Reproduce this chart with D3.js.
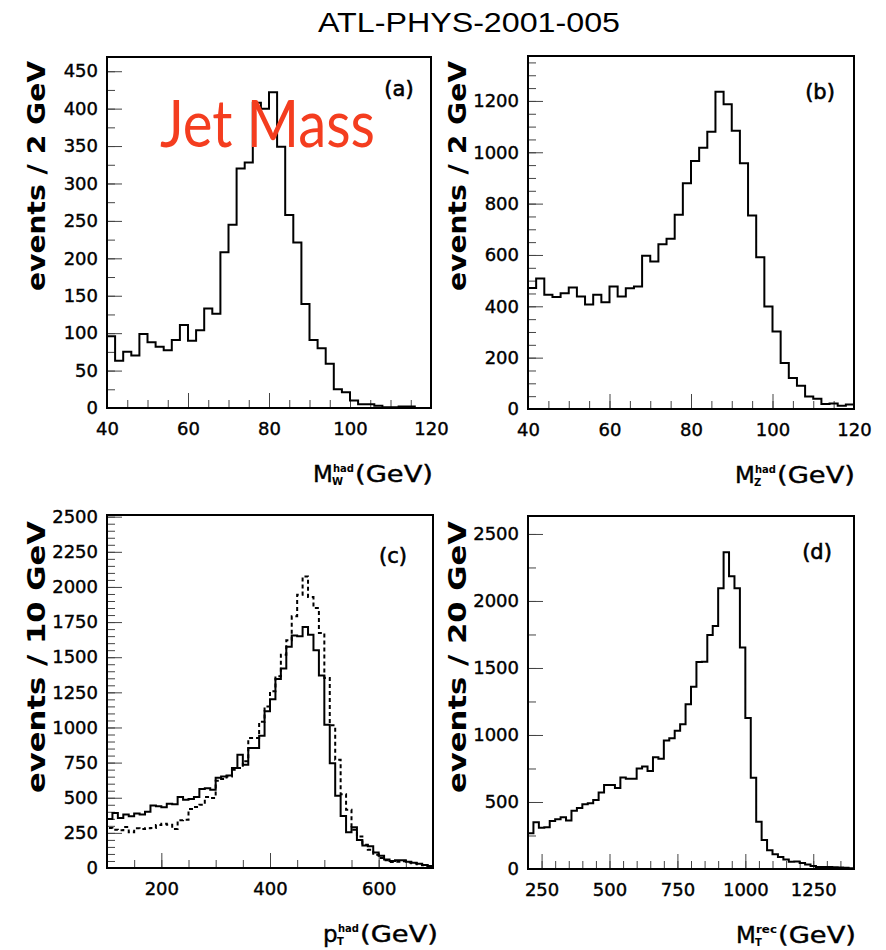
<!DOCTYPE html>
<html>
<head>
<meta charset="utf-8">
<script src="https://cdnjs.cloudflare.com/ajax/libs/d3/7.8.5/d3.min.js"></script>
<style>
body { margin: 0; background: #fff; }
svg { display: block; }
text { font-family: "DejaVu Sans", sans-serif; fill: #000; }
</style>
</head>
<body>
<svg id="main" width="886" height="950"></svg>
<script>
// ---- data ----

// (a) hadronic W mass, 2 GeV bins, 40..120
var wMassEdges = [40, 120, 2];
var wMassCounts = [96, 63, 75, 70, 99, 88, 82, 77, 91, 111,
    90, 104, 133, 126, 208, 245, 320, 328, 408, 400,
    422, 349, 258, 221, 139, 91, 80, 59, 25, 21,
    10, 5, 5, 3, 1, 1, 2, 2, 0, 0];
var wMassXTicks = [40, 60, 80, 100, 120];
var wMassYTicks = [0, 50, 100, 150, 200, 250, 300, 350, 400, 450];

// (b) hadronic Z mass, 2 GeV bins, 40..120
var zMassEdges = [40, 120, 2];
var zMassCounts = [471, 508, 445, 436, 451, 473, 438, 407, 445, 416,
    477, 438, 470, 477, 597, 575, 642, 663, 757, 879,
    966, 1018, 1080, 1236, 1187, 1084, 957, 754, 591, 399,
    302, 179, 121, 91, 49, 40, 19, 21, 13, 18];
var zMassXTicks = [40, 60, 80, 100, 120];
var zMassYTicks = [0, 200, 400, 600, 800, 1000, 1200];

// (c) hadronic pT, 10 GeV bins, 100..700 (solid and dashed)
var ptEdges = [100, 700, 10];
var ptSolid = [349, 391, 356, 380, 368, 387, 380, 401, 444, 439,
    432, 458, 453, 505, 486, 491, 505, 562, 567, 557,
    643, 652, 659, 712, 806, 735, 854, 854, 942, 1115,
    1200, 1345, 1420, 1575, 1655, 1650, 1715, 1660, 1550, 1370,
    1020, 745, 515, 370, 255, 290, 200, 160, 154, 110,
    88, 60, 50, 55, 55, 45, 37, 30, 22, 15];
var ptDashed = [285, 273, 268, 292, 254, 282, 278, 282, 285, 306,
    315, 308, 278, 339, 344, 420, 434, 450, 505, 498,
    621, 633, 652, 700, 712, 760, 925, 925, 1040, 1150,
    1257, 1364, 1518, 1620, 1791, 1945, 2075, 1928, 1850, 1672,
    1352, 1015, 771, 525, 415, 273, 225, 166, 130, 95,
    71, 55, 42, 45, 48, 40, 33, 26, 20, 14];
var ptXTicks = [200, 400, 600];
var ptYTicks = [0, 250, 500, 750, 1000, 1250, 1500, 1750, 2000, 2250, 2500];

// (d) reconstructed transverse mass, 20 GeV bins, 200..1400
var mtEdges = [200, 1400, 20];
var mtCounts = [266, 348, 308, 311, 358, 371, 386, 361, 435, 455,
    483, 490, 515, 570, 627, 627, 604, 682, 674, 674,
    749, 764, 731, 833, 823, 958, 975, 1032, 1080, 1229,
    1360, 1545, 1547, 1746, 1813, 2094, 2363, 2185, 2094, 1652,
    1127, 680, 353, 216, 140, 110, 90, 70, 55, 56,
    45, 33, 22, 15, 15, 14, 13, 11, 9, 6];
var mtXTicks = [250, 500, 750, 1000, 1250];
var mtYTicks = [0, 500, 1000, 1500, 2000, 2500];

var svg = d3.select("svg#main");

svg.append("text")
    .attr("x", 469).attr("y", 32)
    .attr("text-anchor", "middle")
    .attr("textLength", 302).attr("lengthAdjust", "spacingAndGlyphs")
    .style("font-family", "'Liberation Sans', Arial, sans-serif")
    .style("font-size", "27px")
    .text("ATL-PHYS-2001-005");

var panels = [
    {tag: "(a)", box: [107, 431, 57, 408], edges: wMassEdges, yMax: 469,
     series: [{v: wMassCounts}], xTicks: wMassXTicks, xMinor: 5,
     yTicks: wMassYTicks, yMinor: 25, yTitle: "events / 2 GeV", yt: [176, 230],
     xt: {sym: "M", sub: "W", sup: "had", start: 313}, tagPos: [399, 96]},
    {tag: "(b)", box: [528, 854, 56, 409], edges: zMassEdges, yMax: 1375,
     series: [{v: zMassCounts}], xTicks: zMassXTicks, xMinor: 5,
     yTicks: zMassYTicks, yMinor: 50, yTitle: "events / 2 GeV", yt: [176, 230],
     xt: {sym: "M", sub: "Z", sup: "had", start: 735}, tagPos: [820, 99]},
    {tag: "(c)", box: [107, 433, 515, 868], edges: ptEdges, yMax: 2512,
     series: [{v: ptDashed, dash: "4,3"}, {v: ptSolid}], xTicks: ptXTicks, xMinor: 50,
     yTicks: ptYTicks, yMinor: 50, yTitle: "events / 10 GeV", yt: [657, 272],
     xt: {sym: "p", sub: "T", sup: "had", start: 323}, tagPos: [393, 563]},
    {tag: "(d)", box: [528, 854, 516, 869], edges: mtEdges, yMax: 2634,
     series: [{v: mtCounts}], xTicks: mtXTicks, xMinor: 50,
     yTicks: mtYTicks, yMinor: 250, yTitle: "events / 20 GeV", yt: [657, 272],
     xt: {sym: "M", sub: "T", sup: "rec", start: 736}, tagPos: [817, 559]}
];

panels.forEach(drawPanel);

function drawPanel(p) {
    var left = p.box[0], right = p.box[1], top = p.box[2], bottom = p.box[3];
    var lo = p.edges[0], hi = p.edges[1], bw = p.edges[2];

    var x = d3.scaleLinear().domain([lo, hi]).range([left, right]);
    var y = d3.scaleLinear().domain([0, p.yMax]).range([bottom, top]);

    var g = svg.append("g");

    // minor ticks, pointing inside the frame
    var xMinorVals = d3.range(lo, hi + 0.001, p.xMinor);
    var yMinorVals = d3.range(0, p.yMax, p.yMinor);

    g.append("g").attr("transform", "translate(0," + bottom + ")")
        .call(d3.axisBottom(x).tickValues(xMinorVals).tickSize(-8).tickFormat(""))
        .call(tidy);
    g.append("g").attr("transform", "translate(" + left + ",0)")
        .call(d3.axisLeft(y).tickValues(yMinorVals).tickSize(-8).tickFormat(""))
        .call(tidy);

    // major ticks with labels
    g.append("g").attr("transform", "translate(0," + bottom + ")")
        .call(d3.axisBottom(x).tickValues(p.xTicks).tickSize(-15).tickPadding(14).tickFormat(d3.format("d")))
        .call(tidy);
    g.append("g").attr("transform", "translate(" + left + ",0)")
        .call(d3.axisLeft(y).tickValues(p.yTicks).tickSize(-15).tickPadding(9).tickFormat(d3.format("d")))
        .call(tidy);

    // histograms
    var line = d3.line()
        .x(function (d) { return x(d[0]); })
        .y(function (d) { return y(d[1]); })
        .curve(d3.curveStepAfter);

    p.series.forEach(function (s) {
        var pts = [[lo, 0]];
        s.v.forEach(function (v, i) { pts.push([lo + i * bw, v]); });
        pts.push([hi, s.v[s.v.length - 1]]);
        pts.push([hi, 0]);
        g.append("path")
            .attr("d", line(pts))
            .attr("fill", "none")
            .attr("stroke", "#000")
            .attr("stroke-width", 2)
            .attr("stroke-dasharray", s.dash || null);
    });

    // frame
    g.append("rect")
        .attr("x", left).attr("y", top)
        .attr("width", right - left).attr("height", bottom - top)
        .attr("fill", "none").attr("stroke", "#000").attr("stroke-width", 2);

    // panel tag
    g.append("text")
        .attr("x", p.tagPos[0]).attr("y", p.tagPos[1])
        .attr("text-anchor", "middle")
        .style("font-size", "21px")
        .style("stroke", "#000").style("stroke-width", 0.6)
        .text(p.tag);

    // y title
    g.append("text")
        .attr("transform", "translate(" + (left - 62) + "," + p.yt[0] + ") rotate(-90)")
        .attr("text-anchor", "middle")
        .attr("textLength", p.yt[1]).attr("lengthAdjust", "spacingAndGlyphs")
        .style("font-size", "24px").style("font-weight", "bold")
        .text(p.yTitle);

    // x title: symbol, subscript, superscript, (GeV)
    var s0 = p.xt.start, base = bottom + 74;
    g.append("text").attr("x", s0).attr("y", base)
        .style("font-size", "23px").style("stroke", "#000").style("stroke-width", 0.4)
        .text(p.xt.sym);
    var symW = p.xt.sym == "p" ? 14 : 19;
    g.append("text").attr("x", s0 + symW).attr("y", base + 3)
        .style("font-size", "10px").style("font-weight", "bold").text(p.xt.sub);
    g.append("text").attr("x", s0 + symW + 1).attr("y", base - 10)
        .attr("textLength", 21).attr("lengthAdjust", "spacingAndGlyphs")
        .style("font-size", "11px").style("font-weight", "bold").text(p.xt.sup);
    g.append("text").attr("x", s0 + symW + 23).attr("y", base)
        .attr("textLength", 78).attr("lengthAdjust", "spacingAndGlyphs")
        .style("font-size", "23px").style("stroke", "#000").style("stroke-width", 0.4)
        .text("(GeV)");

    if (p.tag == "(a)") {
        var jm = g.append("text")
            .style("font-family", "Lato, 'Open Sans', sans-serif")
            .style("font-size", "66px")
            .style("fill", "#f43d1f")
            .text("Jet Mass");
        var sx = 215 / jm.node().getComputedTextLength();
        jm.attr("transform", "translate(160,147) scale(" + sx + ",1)");
    }
}

function tidy(sel) {
    sel.select(".domain").remove();
    sel.selectAll(".tick line").attr("stroke", "#444").attr("stroke-width", 1);
    sel.selectAll(".tick text")
        .style("font-size", "18px")
        .style("font-family", "'DejaVu Sans', sans-serif")
        .style("stroke", "#000").style("stroke-width", 0.4)
        .attr("fill", "#000");
}
</script>
</body>
</html>
